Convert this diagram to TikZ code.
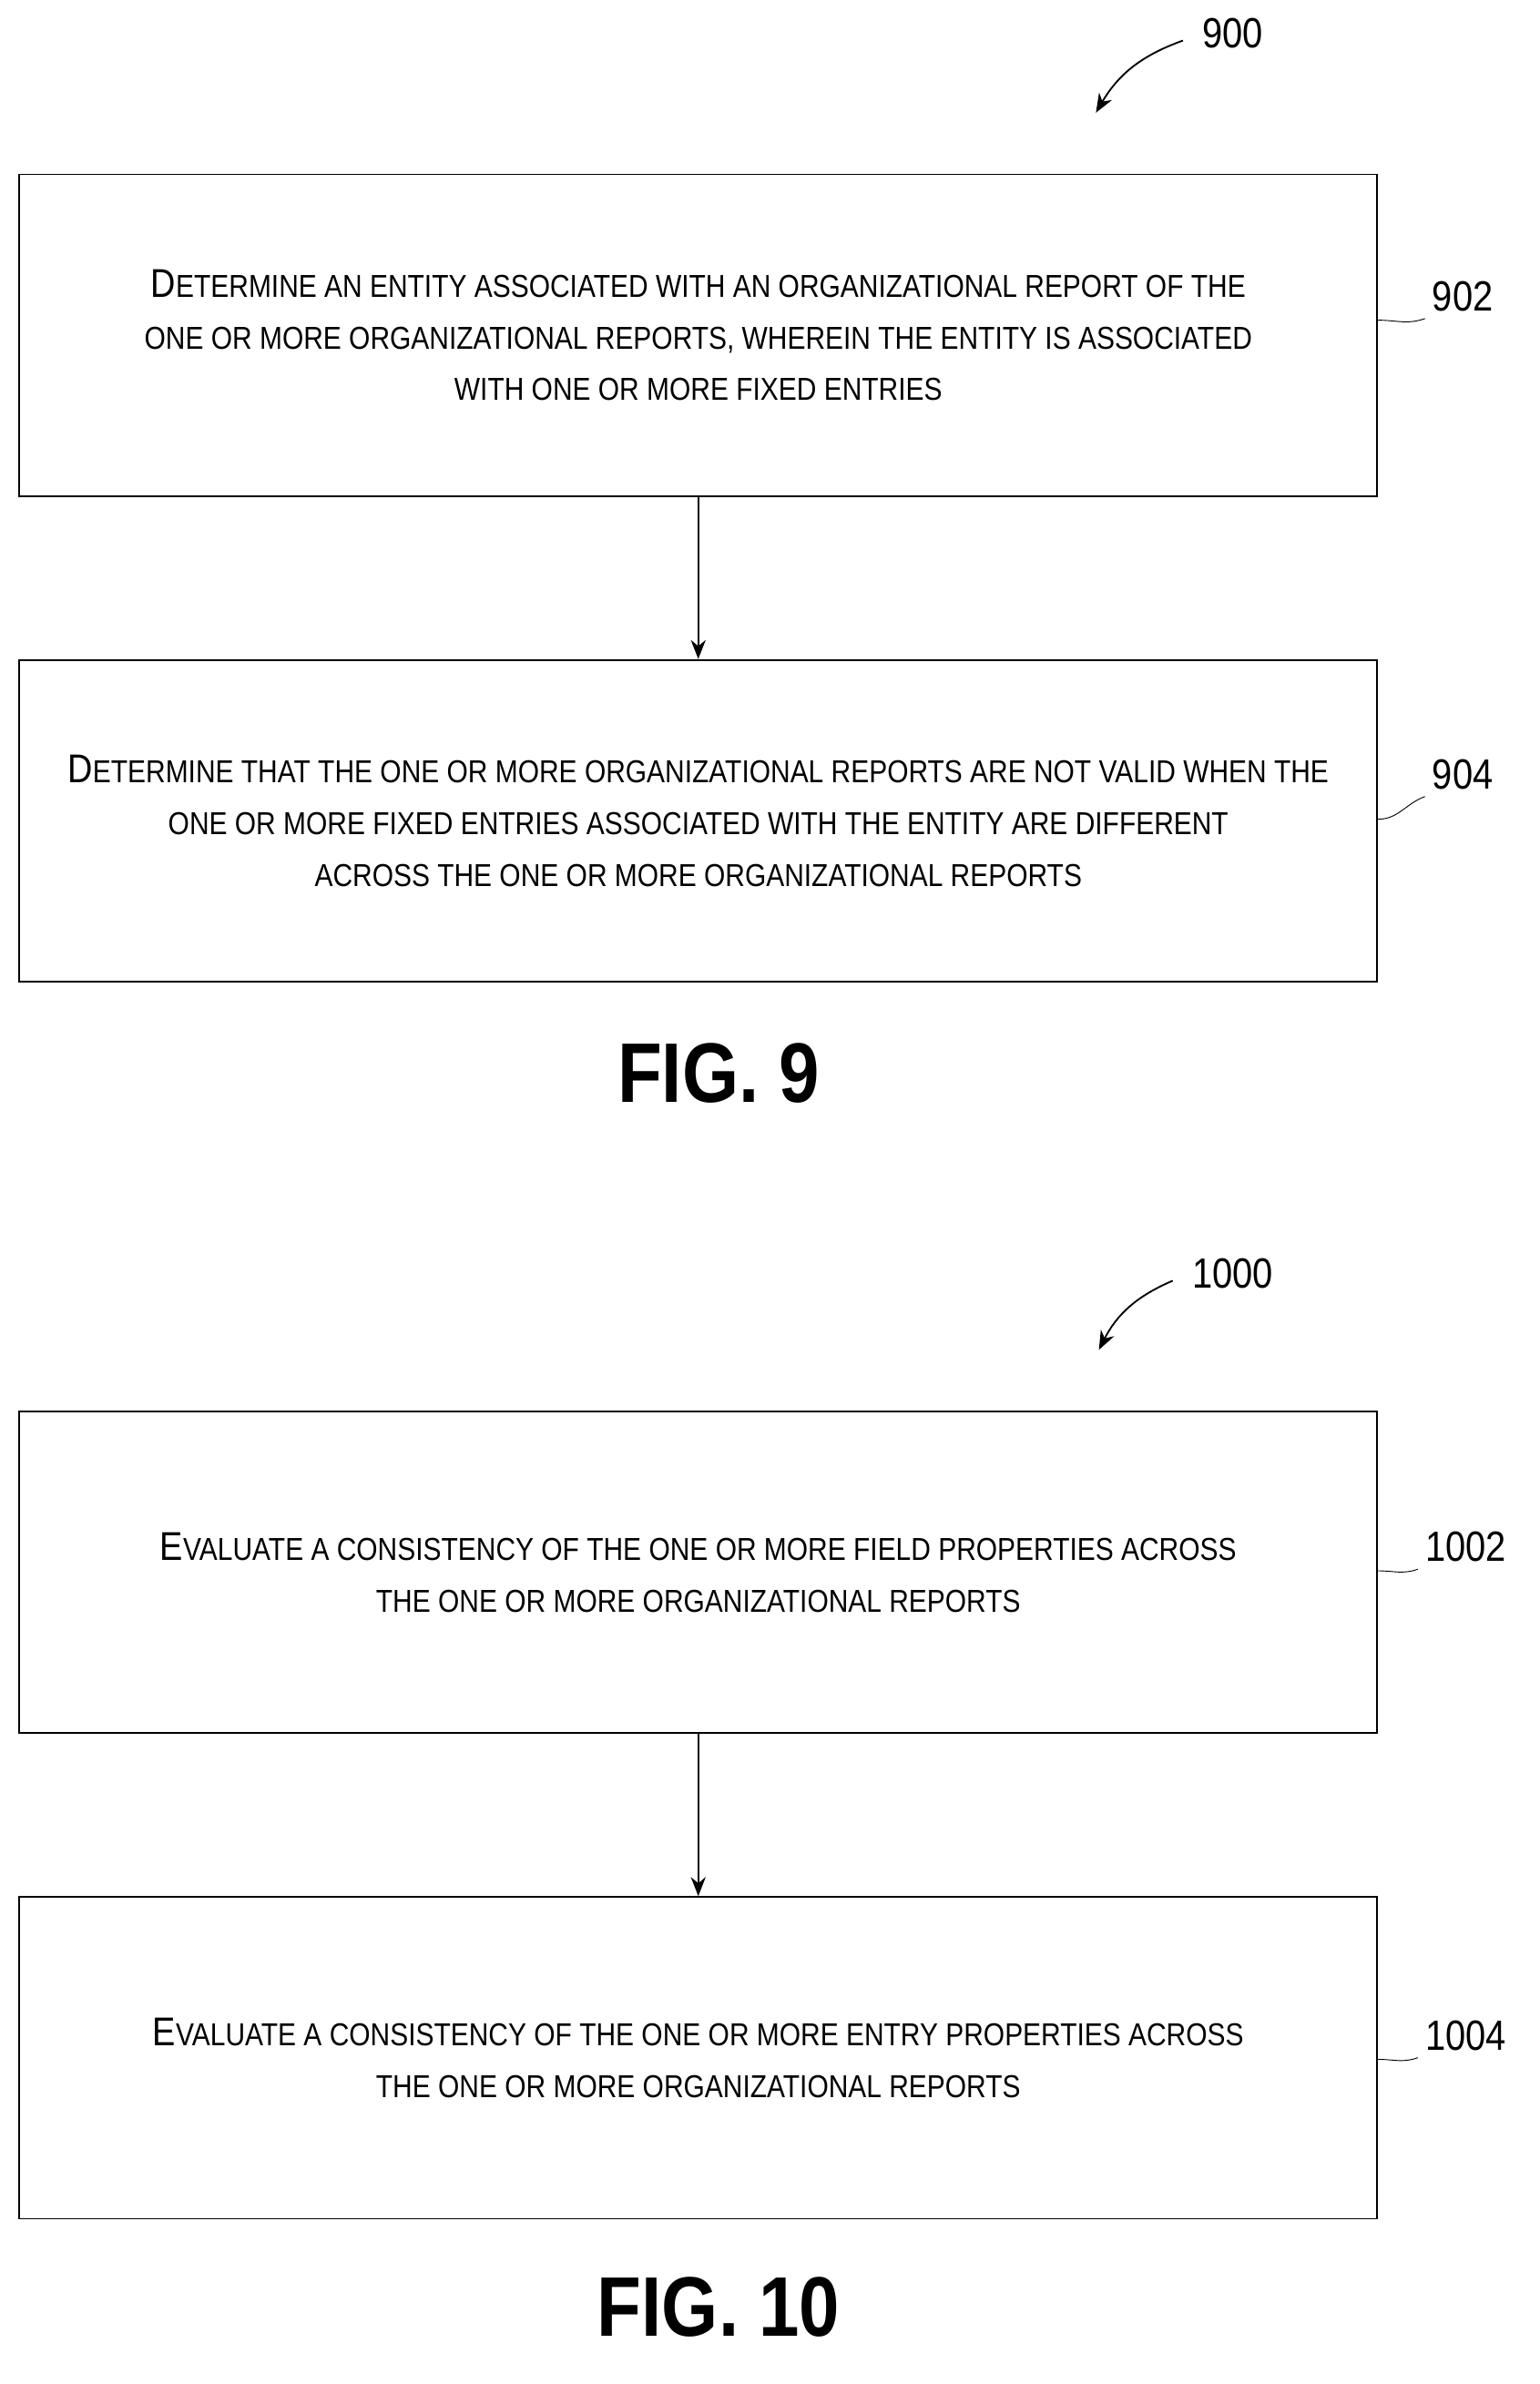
\documentclass[tikz,border=0pt]{standalone}
\usepackage{fontspec}
\setmainfont[FakeStretch=0.86]{Liberation Sans}
\usetikzlibrary{arrows.meta, positioning}
\newcommand{\fc}[2]{{\fontsize{19}{24}\selectfont #1}#2}
\tikzstyle{arrow} = [thick, -{Stealth[length=9pt,width=7pt]}]
\tikzset{
  flowbox/.style={rectangle, draw, thick, minimum width=22.575cm, minimum height=5.35cm, align=center,
    inner sep=2pt, font=\fontsize{15}{24.5}\selectfont},
  ref/.style={font=\fontsize{20}{24}\selectfont},
  fig/.style={font=\bfseries\fontsize{40}{48}\selectfont}
}
\begin{document}
\begin{tikzpicture}[x=0.025cm, y=-0.025cm]
            \useasboundingbox (0,0) rectangle (1024,1586);

            % FIG. 9
            \node[ref] (n900) at (820,22) {900};
            \draw[arrow] (n900.west) ++(-8,5) coordinate (c900) to[bend right=20] (729,75);
            \node[flowbox] (s902) at (464.5,223) {\fc{D}{ETERMINE AN ENTITY ASSOCIATED WITH AN ORGANIZATIONAL REPORT OF THE}\\ONE OR MORE ORGANIZATIONAL REPORTS, WHEREIN THE ENTITY IS ASSOCIATED\\WITH ONE OR MORE FIXED ENTRIES};
            \node[flowbox] (s904) at (464.5,546) {\fc{D}{ETERMINE THAT THE ONE OR MORE ORGANIZATIONAL REPORTS ARE NOT VALID WHEN THE}\\ONE OR MORE FIXED ENTRIES ASSOCIATED WITH THE ENTITY ARE DIFFERENT\\ACROSS THE ONE OR MORE ORGANIZATIONAL REPORTS};
            \draw[arrow] (s902) -- (s904);
            \node[ref] (n902) at (973,197) {902};
            \node[ref] (n904) at (973,515) {904};
            \draw[thin] (s902.east |- 0,213) to[out=0,in=200] (n902.south west);
            \draw[thin] (s904.east |- 0,545) to[out=0,in=200] (n904.south west);
            \node[fig] (f9) at (478,714) {FIG. 9};

            % FIG. 10
            \node[ref] (n1000) at (820,847) {1000};
            \draw[arrow] (n1000.west) ++(-8,5) coordinate (c1000) to[bend right=20] (731,898);
            \node[flowbox] (s1002) at (464.5,1046) {\fc{E}{VALUATE A CONSISTENCY OF THE ONE OR MORE FIELD PROPERTIES ACROSS}\\THE ONE OR MORE ORGANIZATIONAL REPORTS};
            \node[flowbox] (s1004) at (464.5,1369) {\fc{E}{VALUATE A CONSISTENCY OF THE ONE OR MORE ENTRY PROPERTIES ACROSS}\\THE ONE OR MORE ORGANIZATIONAL REPORTS};
            \draw[arrow] (s1002) -- (s1004);
            \node[ref] (n1002) at (975,1029) {1002};
            \node[ref] (n1004) at (975,1354) {1004};
            \draw[thin] (s1002.east |- 0,1045) to[out=0,in=200] (n1002.south west);
            \draw[thin] (s1004.east |- 0,1370) to[out=0,in=200] (n1004.south west);
            \node[fig] (f10) at (478,1535) {FIG. 10};
\end{tikzpicture}
\end{document}
